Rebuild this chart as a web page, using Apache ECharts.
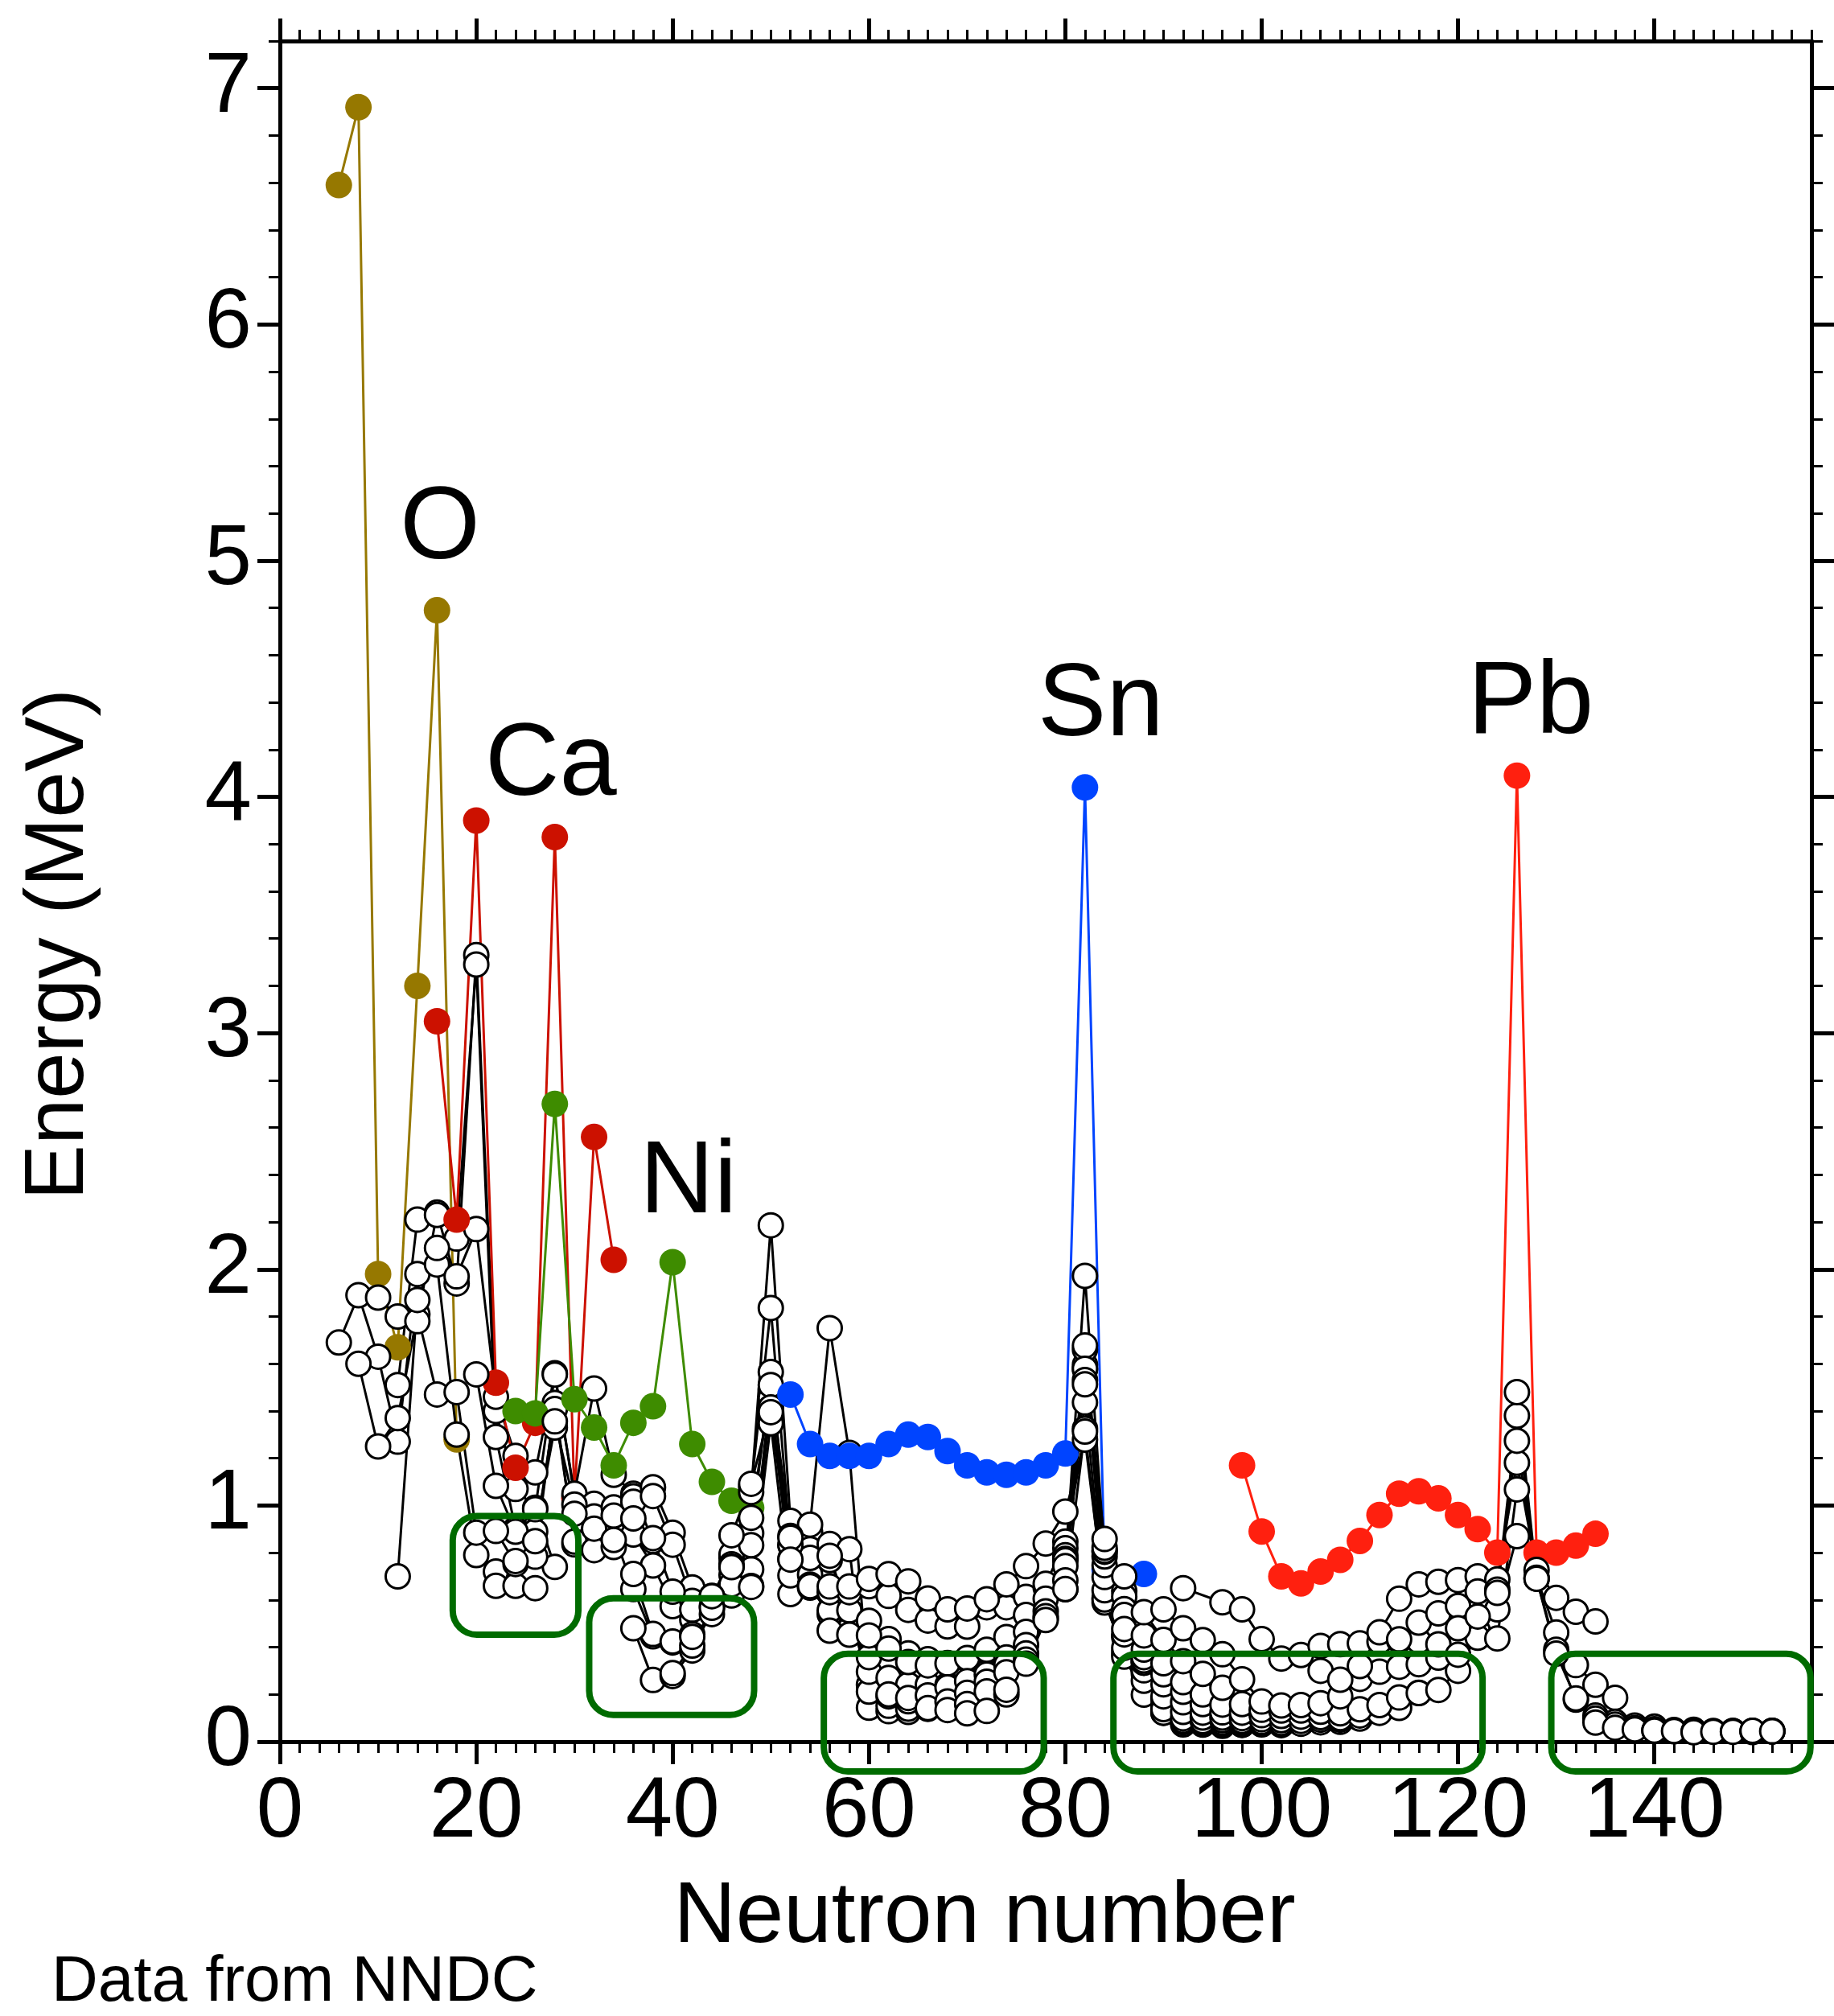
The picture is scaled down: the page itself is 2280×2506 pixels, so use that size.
<!DOCTYPE html>
<html>
<head>
<meta charset="utf-8">
<script src="https://cdn.jsdelivr.net/npm/echarts@6/dist/echarts.min.js"></script>
<style>
html,body{margin:0;padding:0;background:#fff;}
#chart{width:2280px;height:2506px;}
</style>
</head>
<body>
<div id="chart"></div>
<script>
// ---- tick labels ----
const xTicks = [0, 20, 40, 60, 80, 100, 120, 140];
const yTicks = [0, 1, 2, 3, 4, 5, 6, 7];

// ---- highlighted isotopic chains [N, E(2+) MeV] ----
const oxygen  = [[6,6.59],[8,6.92],[10,1.98],[12,1.67],[14,3.20],[16,4.79],[18,1.28]];
const calcium = [[16,3.05],[18,2.21],[20,3.90],[22,1.52],[24,1.16],[26,1.35],[28,3.83],[30,1.03],[32,2.56],[34,2.04]];
const nickel  = [[24,1.40],[26,1.39],[28,2.70],[30,1.45],[32,1.33],[34,1.17],[36,1.35],[38,1.42],[40,2.03],[42,1.26],[44,1.10],[46,1.02],[48,0.99]];
const tin     = [[52,1.47],[54,1.26],[56,1.21],[58,1.21],[60,1.21],[62,1.26],[64,1.30],[66,1.29],[68,1.23],[70,1.17],[72,1.14],[74,1.13],[76,1.14],[78,1.17],[80,1.22],[82,4.04],[84,0.73],[86,'-'],[88,0.71]];
const lead    = [[98,1.17],[100,0.89],[102,0.70],[104,0.67],[106,0.72],[108,0.77],[110,0.85],[112,0.96],[114,1.05],[116,1.06],[118,1.03],[120,0.96],[122,0.90],[124,0.80],[126,4.09],[128,0.80],[130,0.80],[132,0.83],[134,0.88]];

// ---- other even-even chains [N, E(2+) MeV] ----
const neon      = [[6,1.69],[8,1.89],[10,1.63],[12,1.27],[14,1.98],[16,2.02],[18,1.30],[20,0.79],[22,0.72]];
const magnesium = [[8,1.60],[10,1.25],[12,1.37],[14,1.81],[16,1.47],[18,1.48],[20,0.885],[22,0.66],[24,0.66],[26,0.65]];
const silicon   = [[10,1.88],[12,1.80],[14,1.78],[16,2.24],[18,1.94],[20,3.33],[22,1.40],[24,1.07],[26,0.99],[28,0.74]];
const sulfur    = [[12,1.51],[14,2.21],[16,2.23],[18,2.13],[20,3.29],[22,1.29],[24,0.90],[26,0.89],[28,1.33]];
const argon     = [[12,0.70],[14,1.87],[16,2.09],[18,1.97],[20,2.17],[22,1.46],[24,1.21],[26,1.14],[28,1.56],[30,1.04]];
const titanium  = [[20,1.555],[22,1.083],[24,0.889],[26,0.984],[28,1.554],[30,1.050],[32,1.495],[34,1.13],[36,1.05],[38,0.85]];
const chromium  = [[22,0.892],[24,0.752],[26,0.783],[28,1.434],[30,0.835],[32,1.007],[34,0.881],[36,0.646],[38,0.446],[40,0.420]];
const iron      = [[24,0.765],[26,0.849],[28,1.408],[30,0.847],[32,0.811],[34,0.824],[36,0.877],[38,0.746],[40,0.574],[42,0.517]];
const zinc      = [[28,1.356],[30,1.004],[32,0.954],[34,0.992],[36,1.039],[38,1.077],[40,0.885],[42,0.653],[44,0.606],[46,0.706],[48,0.730],[50,1.492]];
const germanium = [[30,0.965],[32,0.902],[34,0.957],[36,1.016],[38,1.040],[40,0.834],[42,0.596],[44,0.563],[46,0.619],[48,0.659],[50,1.348],[52,0.625]];
const selenium  = [[34,0.854],[36,0.945],[38,0.862],[40,0.635],[42,0.559],[44,0.614],[46,0.666],[48,0.655],[50,1.455],[52,0.704],[54,0.886]];
const krypton   = [[36,0.710],[38,0.456],[40,0.424],[42,0.455],[44,0.617],[46,0.777],[48,0.882],[50,1.565],[52,0.775],[54,0.707],[56,0.769],[58,0.554],[60,0.241]];
const strontium = [[36,0.48],[38,0.261],[40,0.278],[42,0.386],[44,0.574],[46,0.793],[48,1.077],[50,1.836],[52,0.832],[54,0.815],[56,0.837],[58,0.815],[60,0.144],[62,0.129],[64,0.126]];
const zirconium = [[40,0.290],[42,0.407],[44,0.540],[46,0.751],[48,1.057],[50,2.186],[52,0.935],[54,0.919],[56,1.751],[58,1.223],[60,0.212],[62,0.152],[64,0.140],[66,0.139]];
const molybdenum= [[42,0.444],[44,0.567],[46,0.741],[48,0.948],[50,1.510],[52,0.871],[54,0.778],[56,0.787],[58,0.536],[60,0.296],[62,0.192],[64,0.171],[66,0.193],[68,0.214]];
const ruthenium = [[44,0.616],[46,0.739],[48,0.832],[50,1.397],[52,0.833],[54,0.652],[56,0.540],[58,0.475],[60,0.358],[62,0.270],[64,0.241],[66,0.241],[68,0.240]];
const palladium = [[46,0.874],[48,1.092],[50,1.415],[52,0.863],[54,0.665],[56,0.556],[58,0.556],[60,0.512],[62,0.434],[64,0.374],[66,0.349],[68,0.333],[70,0.348],[72,0.38]];
const cadmium   = [[50,1.395],[52,0.771],[54,0.658],[56,0.633],[58,0.633],[60,0.658],[62,0.617],[64,0.558],[66,0.513],[68,0.488],[70,0.487],[72,0.569],[74,0.569],[76,0.613],[78,0.652],[80,0.645],[82,1.325]];
const tellurium = [[56,0.657],[58,0.657],[60,0.689],[62,0.709],[64,0.679],[66,0.606],[68,0.560],[70,0.564],[72,0.603],[74,0.666],[76,0.743],[78,0.839],[80,0.974],[82,1.279],[84,0.607],[86,0.443],[88,0.30]];
const xenon     = [[56,0.470],[58,0.453],[60,0.450],[62,0.394],[64,0.337],[66,0.323],[68,0.331],[70,0.354],[72,0.389],[74,0.443],[76,0.536],[78,0.668],[80,0.847],[82,1.313],[84,0.589],[86,0.377],[88,0.287],[90,0.252]];
const barium    = [[62,0.20],[64,0.185],[66,0.196],[68,0.230],[70,0.256],[72,0.284],[74,0.357],[76,0.465],[78,0.605],[80,0.819],[82,1.436],[84,0.602],[86,0.360],[88,0.199],[90,0.181],[92,0.142],[94,0.10]];
const cerium    = [[66,0.142],[68,0.170],[70,0.207],[72,0.254],[74,0.325],[76,0.409],[78,0.552],[80,0.789],[82,1.596],[84,0.641],[86,0.397],[88,0.258],[90,0.158],[92,0.097],[94,0.081]];
const neodymium = [[68,0.134],[70,0.159],[72,0.213],[74,0.294],[76,0.374],[78,0.521],[80,0.774],[82,1.576],[84,0.697],[86,0.454],[88,0.302],[90,0.130],[92,0.073],[94,0.072],[96,0.067]];
const samarium  = [[70,0.12],[72,0.13],[74,0.20],[76,0.347],[78,0.531],[80,0.768],[82,1.660],[84,0.747],[86,0.550],[88,0.334],[90,0.122],[92,0.082],[94,0.076],[96,0.073],[98,0.071]];
const gadolinium= [[74,0.22],[76,0.33],[78,0.515],[80,0.743],[82,1.972],[84,0.784],[86,0.638],[88,0.344],[90,0.123],[92,0.089],[94,0.080],[96,0.075],[98,0.072],[100,0.073]];
const dysprosium= [[80,0.683],[82,1.677],[84,0.804],[86,0.614],[88,0.335],[90,0.138],[92,0.099],[94,0.087],[96,0.081],[98,0.073],[100,0.077],[102,0.070]];
const erbium    = [[80,0.646],[82,1.579],[84,0.808],[86,0.561],[88,0.344],[90,0.192],[92,0.126],[94,0.102],[96,0.091],[98,0.081],[100,0.080],[102,0.079],[104,0.077]];
const ytterbium = [[82,1.531],[84,0.821],[86,0.536],[88,0.358],[90,0.243],[92,0.167],[94,0.123],[96,0.102],[98,0.088],[100,0.084],[102,0.079],[104,0.076],[106,0.082],[108,0.084]];
const hafnium   = [[82,1.513],[84,0.858],[86,0.477],[88,0.390],[90,0.285],[92,0.211],[94,0.159],[96,0.124],[98,0.100],[100,0.095],[102,0.091],[104,0.088],[106,0.093],[108,0.093],[110,0.098]];
const tungsten  = [[86,0.70],[88,0.450],[90,0.332],[92,0.252],[94,0.200],[96,0.157],[98,0.123],[100,0.112],[102,0.109],[104,0.106],[106,0.104],[108,0.100],[110,0.111],[112,0.122],[114,0.143],[116,0.207]];
const osmium    = [[88,0.548],[90,0.431],[92,0.341],[94,0.287],[96,0.228],[98,0.159],[100,0.135],[102,0.132],[104,0.132],[106,0.127],[108,0.120],[110,0.137],[112,0.155],[114,0.187],[116,0.206],[118,0.219],[120,0.30]];
const platinum  = [[90,0.56],[92,0.48],[94,0.43],[96,0.37],[98,0.264],[100,0.170],[102,0.153],[104,0.155],[106,0.163],[108,0.192],[110,0.266],[112,0.296],[114,0.317],[116,0.328],[118,0.356],[120,0.407],[122,0.470],[124,0.56],[126,0.87]];
const mercury   = [[92,0.65],[96,0.59],[98,0.56],[100,0.434],[102,0.352],[104,0.367],[106,0.405],[108,0.413],[110,0.416],[112,0.423],[114,0.428],[116,0.426],[118,0.412],[120,0.368],[122,0.440],[124,0.437],[126,1.068]];
const polonium  = [[106,0.30],[108,0.262],[110,0.320],[112,0.463],[114,0.605],[116,0.666],[118,0.677],[120,0.684],[122,0.700],[124,0.687],[126,1.181],[128,0.727],[130,0.609],[132,0.550],[134,0.509]];
const radon     = [[114,0.433],[116,0.504],[118,0.543],[120,0.575],[122,0.636],[124,0.644],[126,1.274],[128,0.694],[130,0.462],[132,0.324],[134,0.241],[136,0.186]];
const radium    = [[120,0.48],[122,0.53],[124,0.63],[126,1.38],[128,0.69],[130,0.389],[132,0.178],[134,0.111],[136,0.084],[138,0.068],[140,0.064]];
const thorium   = [[126,1.48],[128,0.69],[130,0.373],[132,0.183],[134,0.098],[136,0.072],[138,0.058],[140,0.053],[142,0.049],[144,0.050]];
const uranium   = [[134,0.081],[136,0.059],[138,0.052],[140,0.048],[142,0.044],[144,0.045],[146,0.045],[148,0.045]];
const plutonium = [[140,0.047],[142,0.045],[144,0.044],[146,0.043],[148,0.045],[150,0.046],[152,0.046]];
const curium    = [[144,0.040],[146,0.042],[148,0.043],[150,0.043],[152,0.043]];
const californium=[[148,0.042],[150,0.041],[152,0.043]];
const fermium   = [[150,0.044],[152,0.046]];
const nobelium  = [[150,0.046],[152,0.044]];

// ---- annotation boxes [N from, N to, E bottom, E top] ----
const boxes = [
  [17.6, 30.4, 0.453, 0.955],
  [31.5, 48.3, 0.113, 0.607],
  [55.4, 77.8, -0.126, 0.372],
  [84.9, 122.5, -0.126, 0.372],
  [129.5, 155.9, -0.126, 0.372]
];

// ---- element labels ----
const labelNames = ['O', 'Ca', 'Ni', 'Sn', 'Pb'];
const labelN     = [16.3, 27.6, 41.6, 83.6, 127.4];
const labelE     = [5.13, 4.13, 2.36, 4.38, 4.39];

const FONT = '"Liberation Sans", Arial, Helvetica, sans-serif';

function whiteChain(name, data) {
  return {
    name: name, type: 'line', data: data,
    symbol: 'circle', symbolSize: 30, connectNulls: false,
    itemStyle: { color: '#ffffff', borderColor: '#000000', borderWidth: 3 },
    lineStyle: { color: '#000000', width: 3 },
    emphasis: { disabled: true }, silent: true
  };
}
function colorChain(name, data, color) {
  return {
    name: name, type: 'line', data: data,
    symbol: 'circle', symbolSize: 33, connectNulls: false,
    itemStyle: { color: color, borderWidth: 0 },
    lineStyle: { color: color, width: 3 },
    emphasis: { disabled: true }, silent: true
  };
}

const series = [
  colorChain('O', oxygen, '#967800'),
  whiteChain('Ne', neon),
  whiteChain('Mg', magnesium),
  whiteChain('Si', silicon),
  whiteChain('S', sulfur),
  whiteChain('Ar', argon),
  colorChain('Ca', calcium, '#CC1100'),
  whiteChain('Ti', titanium),
  whiteChain('Cr', chromium),
  whiteChain('Fe', iron),
  colorChain('Ni', nickel, '#3E8C00'),
  whiteChain('Zn', zinc),
  whiteChain('Ge', germanium),
  whiteChain('Se', selenium),
  whiteChain('Kr', krypton),
  whiteChain('Sr', strontium),
  whiteChain('Zr', zirconium),
  whiteChain('Mo', molybdenum),
  whiteChain('Ru', ruthenium),
  whiteChain('Pd', palladium),
  whiteChain('Cd', cadmium),
  colorChain('Sn', tin, '#0044FF'),
  whiteChain('Te', tellurium),
  whiteChain('Xe', xenon),
  whiteChain('Ba', barium),
  whiteChain('Ce', cerium),
  whiteChain('Nd', neodymium),
  whiteChain('Sm', samarium),
  whiteChain('Gd', gadolinium),
  whiteChain('Dy', dysprosium),
  whiteChain('Er', erbium),
  whiteChain('Yb', ytterbium),
  whiteChain('Hf', hafnium),
  whiteChain('W', tungsten),
  whiteChain('Os', osmium),
  whiteChain('Pt', platinum),
  whiteChain('Hg', mercury),
  colorChain('Pb', lead, '#FF200F'),
  whiteChain('Po', polonium),
  whiteChain('Rn', radon),
  whiteChain('Ra', radium),
  whiteChain('Th', thorium),
  whiteChain('U', uranium),
  whiteChain('Pu', plutonium),
  whiteChain('Cm', curium),
  whiteChain('Cf', californium),
  whiteChain('Fm', fermium),
  whiteChain('No', nobelium)
];

series.push({
  name: 'boxes', type: 'custom', data: boxes, clip: false, z: 10, silent: true,
  renderItem: function (params, api) {
    const p0 = api.coord([api.value(0), api.value(3)]);
    const p1 = api.coord([api.value(1), api.value(2)]);
    return {
      type: 'rect',
      shape: { x: p0[0], y: p0[1], width: p1[0] - p0[0], height: p1[1] - p0[1], r: 30 },
      style: { fill: 'none', stroke: '#006B00', lineWidth: 8 }
    };
  }
});

series.push({
  name: 'labels', type: 'scatter', z: 11, silent: true,
  symbolSize: 1, itemStyle: { color: 'rgba(0,0,0,0)' },
  data: labelNames.map((n, i) => ({ name: n, value: [labelN[i], labelE[i]] })),
  label: { show: true, position: 'inside', formatter: '{b}', fontSize: 128, color: '#000000', opacity: 1, fontFamily: FONT }
});

const axisLineStyle = { show: true, onZero: false, lineStyle: { color: '#000', width: 5 } };
const noLine = { show: false, onZero: false };
const majorTick = (vals) => ({ show: true, inside: false, length: 28, lineStyle: { color: '#000', width: 5 }, customValues: vals });
const minorTick = { show: true, inside: false, length: 14, lineStyle: { color: '#000', width: 3 } };

const option = {
  animation: false,
  backgroundColor: '#ffffff',
  grid: { left: 348, right: 28, top: 51, bottom: 341, containLabel: false },
  xAxis: [
    { type: 'value', position: 'bottom', min: 0, max: 156, interval: 20,
      axisLine: axisLineStyle, axisTick: majorTick(xTicks),
      axisLabel: { customValues: xTicks, fontSize: 105, margin: 37, color: '#000', fontFamily: FONT },
      splitLine: { show: false },
      name: 'Neutron number', nameLocation: 'middle', nameGap: 166,
      nameTextStyle: { fontSize: 107, color: '#000', fontFamily: FONT, padding: [0, 152, 0, 0] } },
    { type: 'value', position: 'top', min: 0, max: 156, interval: 20,
      axisLine: axisLineStyle, axisTick: majorTick(xTicks),
      axisLabel: { show: false }, splitLine: { show: false } },
    { type: 'value', position: 'bottom', min: 0, max: 156, interval: 2,
      axisLine: noLine, axisTick: minorTick, axisLabel: { show: false }, splitLine: { show: false } },
    { type: 'value', position: 'top', min: 0, max: 156, interval: 2,
      axisLine: noLine, axisTick: minorTick, axisLabel: { show: false }, splitLine: { show: false } }
  ],
  yAxis: [
    { type: 'value', position: 'left', min: 0, max: 7.2, interval: 1,
      axisLine: axisLineStyle, axisTick: majorTick(yTicks),
      axisLabel: { customValues: yTicks, fontSize: 105, margin: 35, color: '#000', fontFamily: FONT },
      splitLine: { show: false },
      name: 'Energy (MeV)', nameLocation: 'middle', nameGap: 222,
      nameTextStyle: { fontSize: 103, color: '#000', fontFamily: FONT, padding: [0, 132, 0, 0] } },
    { type: 'value', position: 'right', min: 0, max: 7.2, interval: 1,
      axisLine: axisLineStyle, axisTick: majorTick(yTicks),
      axisLabel: { show: false }, splitLine: { show: false } },
    { type: 'value', position: 'left', min: 0, max: 7.2, interval: 0.2,
      axisLine: noLine, axisTick: minorTick, axisLabel: { show: false }, splitLine: { show: false } },
    { type: 'value', position: 'right', min: 0, max: 7.2, interval: 0.2,
      axisLine: noLine, axisTick: minorTick, axisLabel: { show: false }, splitLine: { show: false } }
  ],
  graphic: [
    { type: 'text', left: 64, top: 2425,
      style: { text: 'Data from NNDC', font: '80px ' + FONT, fill: '#000' } }
  ],
  series: series
};

const chart = echarts.init(document.getElementById('chart'), null, { renderer: 'canvas', width: 2280, height: 2506 });
chart.setOption(option);
</script>
</body>
</html>
